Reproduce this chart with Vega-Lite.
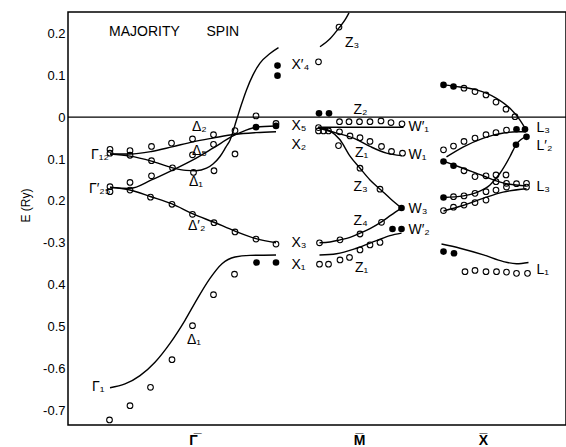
{
  "$schema": "https://vega.github.io/schema/vega-lite/v6.json",
  "width": 498,
  "height": 413,
  "autosize": "none",
  "padding": {"left": 68, "top": 12, "right": 0, "bottom": 22},
  "config": {
    "view": {"stroke": "black", "strokeWidth": 1.5},
    "font": "Liberation Sans"
  },
  "datasets": {
    "curves": [
      {"c": "zero", "k": 0.2, "E": 0}, {"c": "zero", "k": 99.8, "E": 0},
      {"c": "G1", "k": 8.6, "E": -0.646}, {"c": "G1", "k": 11.6, "E": -0.637}, {"c": "G1", "k": 14.6, "E": -0.617}, {"c": "G1", "k": 17.6, "E": -0.585}, {"c": "G1", "k": 20.6, "E": -0.54}, {"c": "G1", "k": 23.6, "E": -0.485}, {"c": "G1", "k": 26.0, "E": -0.435}, {"c": "G1", "k": 28.6, "E": -0.385}, {"c": "G1", "k": 31.0, "E": -0.35}, {"c": "G1", "k": 33.6, "E": -0.334}, {"c": "G1", "k": 36.6, "E": -0.33}, {"c": "G1", "k": 41.8, "E": -0.329},
      {"c": "D2p", "k": 8.6, "E": -0.167}, {"c": "D2p", "k": 12.6, "E": -0.174}, {"c": "D2p", "k": 16.8, "E": -0.19}, {"c": "D2p", "k": 21.0, "E": -0.207}, {"c": "D2p", "k": 25.2, "E": -0.231}, {"c": "D2p", "k": 29.4, "E": -0.251}, {"c": "D2p", "k": 33.6, "E": -0.272}, {"c": "D2p", "k": 37.8, "E": -0.29}, {"c": "D2p", "k": 41.8, "E": -0.3},
      {"c": "D5", "k": 8.6, "E": -0.168}, {"c": "D5", "k": 12.6, "E": -0.17}, {"c": "D5", "k": 16.9, "E": -0.15}, {"c": "D5", "k": 21.2, "E": -0.126}, {"c": "D5", "k": 25.2, "E": -0.102}, {"c": "D5", "k": 29.2, "E": -0.074}, {"c": "D5", "k": 33.2, "E": -0.045}, {"c": "D5", "k": 35.6, "E": -0.032}, {"c": "D5", "k": 37.8, "E": -0.024}, {"c": "D5", "k": 41.8, "E": -0.021},
      {"c": "D2", "k": 8.6, "E": -0.088}, {"c": "D2", "k": 12.6, "E": -0.088}, {"c": "D2", "k": 16.9, "E": -0.082}, {"c": "D2", "k": 21.0, "E": -0.071}, {"c": "D2", "k": 25.2, "E": -0.059}, {"c": "D2", "k": 29.2, "E": -0.05}, {"c": "D2", "k": 33.6, "E": -0.041}, {"c": "D2", "k": 37.8, "E": -0.037}, {"c": "D2", "k": 41.8, "E": -0.035},
      {"c": "D1", "k": 8.6, "E": -0.088}, {"c": "D1", "k": 12.6, "E": -0.093}, {"c": "D1", "k": 16.9, "E": -0.105}, {"c": "D1", "k": 21.1, "E": -0.121}, {"c": "D1", "k": 23.8, "E": -0.127}, {"c": "D1", "k": 25.8, "E": -0.128}, {"c": "D1", "k": 27.9, "E": -0.122}, {"c": "D1", "k": 29.2, "E": -0.112}, {"c": "D1", "k": 30.6, "E": -0.094}, {"c": "D1", "k": 31.8, "E": -0.071}, {"c": "D1", "k": 32.6, "E": -0.055}, {"c": "D1", "k": 33.9, "E": -0.007}, {"c": "D1", "k": 34.8, "E": 0.027}, {"c": "D1", "k": 35.9, "E": 0.065}, {"c": "D1", "k": 37.2, "E": 0.101}, {"c": "D1", "k": 38.6, "E": 0.129}, {"c": "D1", "k": 40.6, "E": 0.152}, {"c": "D1", "k": 42.3, "E": 0.166},
      {"c": "Z3top", "k": 50.6, "E": 0.168}, {"c": "Z3top", "k": 52.6, "E": 0.187}, {"c": "Z3top", "k": 54.4, "E": 0.213}, {"c": "Z3top", "k": 55.6, "E": 0.232}, {"c": "Z3top", "k": 56.4, "E": 0.249},
      {"c": "W1p", "k": 50.3, "E": -0.024}, {"c": "W1p", "k": 67.3, "E": -0.024},
      {"c": "W1", "k": 50.2, "E": -0.026}, {"c": "W1", "k": 53.9, "E": -0.038}, {"c": "W1", "k": 57.3, "E": -0.05}, {"c": "W1", "k": 60.6, "E": -0.07}, {"c": "W1", "k": 63.9, "E": -0.086}, {"c": "W1", "k": 66.9, "E": -0.092},
      {"c": "Z3", "k": 50.2, "E": -0.024}, {"c": "Z3", "k": 52.6, "E": -0.033}, {"c": "Z3", "k": 54.6, "E": -0.054}, {"c": "Z3", "k": 56.6, "E": -0.093}, {"c": "Z3", "k": 58.6, "E": -0.122}, {"c": "Z3", "k": 60.6, "E": -0.15}, {"c": "Z3", "k": 62.8, "E": -0.174}, {"c": "Z3", "k": 64.8, "E": -0.196}, {"c": "Z3", "k": 66.9, "E": -0.217},
      {"c": "Z4", "k": 50.5, "E": -0.3}, {"c": "Z4", "k": 52.6, "E": -0.298}, {"c": "Z4", "k": 54.6, "E": -0.293}, {"c": "Z4", "k": 56.6, "E": -0.287}, {"c": "Z4", "k": 58.6, "E": -0.277}, {"c": "Z4", "k": 60.6, "E": -0.266}, {"c": "Z4", "k": 62.9, "E": -0.25}, {"c": "Z4", "k": 64.8, "E": -0.234}, {"c": "Z4", "k": 66.9, "E": -0.217},
      {"c": "Z1L", "k": 50.5, "E": -0.329}, {"c": "Z1L", "k": 53.9, "E": -0.326}, {"c": "Z1L", "k": 57.9, "E": -0.313}, {"c": "Z1L", "k": 61.9, "E": -0.295}, {"c": "Z1L", "k": 64.6, "E": -0.283}, {"c": "Z1L", "k": 66.9, "E": -0.277},
      {"c": "Ltop", "k": 75.3, "E": 0.077}, {"c": "Ltop", "k": 78.6, "E": 0.072}, {"c": "Ltop", "k": 81.9, "E": 0.065}, {"c": "Ltop", "k": 85.9, "E": 0.045}, {"c": "Ltop", "k": 88.6, "E": 0.021}, {"c": "Ltop", "k": 90.6, "E": -0.007}, {"c": "Ltop", "k": 91.8, "E": -0.03},
      {"c": "LW1p", "k": 75.9, "E": -0.095}, {"c": "LW1p", "k": 79.3, "E": -0.071}, {"c": "LW1p", "k": 83.3, "E": -0.05}, {"c": "LW1p", "k": 87.3, "E": -0.038}, {"c": "LW1p", "k": 89.9, "E": -0.035}, {"c": "LW1p", "k": 91.8, "E": -0.035},
      {"c": "LW1", "k": 75.3, "E": -0.105}, {"c": "LW1", "k": 79.2, "E": -0.122}, {"c": "LW1", "k": 83.2, "E": -0.14}, {"c": "LW1", "k": 87.2, "E": -0.157}, {"c": "LW1", "k": 91.8, "E": -0.164},
      {"c": "LA", "k": 75.3, "E": -0.192}, {"c": "LA", "k": 79.3, "E": -0.188}, {"c": "LA", "k": 81.9, "E": -0.18}, {"c": "LA", "k": 84.6, "E": -0.162}, {"c": "LA", "k": 86.6, "E": -0.134}, {"c": "LA", "k": 88.6, "E": -0.094}, {"c": "LA", "k": 89.8, "E": -0.066}, {"c": "LA", "k": 91.9, "E": -0.046},
      {"c": "LB", "k": 75.3, "E": -0.224}, {"c": "LB", "k": 79.2, "E": -0.211}, {"c": "LB", "k": 83.2, "E": -0.194}, {"c": "LB", "k": 87.2, "E": -0.179}, {"c": "LB", "k": 91.9, "E": -0.171},
      {"c": "L1", "k": 74.9, "E": -0.303}, {"c": "L1", "k": 78.6, "E": -0.313}, {"c": "L1", "k": 83.3, "E": -0.329}, {"c": "L1", "k": 87.3, "E": -0.345}, {"c": "L1", "k": 89.9, "E": -0.35}, {"c": "L1", "k": 92.3, "E": -0.347}
    ],
    "open": [
      {"k": 8.6, "E": -0.077}, {"k": 8.6, "E": -0.086}, {"k": 12.6, "E": -0.08}, {"k": 12.6, "E": -0.091}, {"k": 16.9, "E": -0.07}, {"k": 16.9, "E": -0.104}, {"k": 20.9, "E": -0.062}, {"k": 21.1, "E": -0.121}, {"k": 25.1, "E": -0.052}, {"k": 25.1, "E": -0.09}, {"k": 25.3, "E": -0.132}, {"k": 29.3, "E": -0.042}, {"k": 29.3, "E": -0.065}, {"k": 29.4, "E": -0.128}, {"k": 33.6, "E": -0.032}, {"k": 33.6, "E": -0.088}, {"k": 37.8, "E": 0.003}, {"k": 41.8, "E": -0.015},
      {"k": 8.6, "E": -0.166}, {"k": 8.6, "E": -0.178}, {"k": 12.6, "E": -0.156}, {"k": 12.6, "E": -0.174}, {"k": 16.9, "E": -0.14}, {"k": 16.7, "E": -0.191}, {"k": 21.0, "E": -0.208}, {"k": 25.1, "E": -0.232}, {"k": 29.4, "E": -0.252}, {"k": 33.6, "E": -0.274}, {"k": 37.8, "E": -0.291}, {"k": 41.8, "E": -0.303},
      {"k": 8.5, "E": -0.723}, {"k": 12.6, "E": -0.689}, {"k": 16.7, "E": -0.645}, {"k": 21.0, "E": -0.579}, {"k": 25.1, "E": -0.498}, {"k": 29.3, "E": -0.424}, {"k": 33.5, "E": -0.375},
      {"k": 50.3, "E": 0.132}, {"k": 54.4, "E": 0.215}, {"k": 50.3, "E": -0.025}, {"k": 50.3, "E": -0.033}, {"k": 51.3, "E": -0.033}, {"k": 52.3, "E": -0.033},
      {"k": 54.5, "E": -0.011}, {"k": 56.4, "E": -0.011}, {"k": 58.5, "E": -0.011}, {"k": 60.6, "E": -0.011}, {"k": 62.8, "E": -0.009}, {"k": 64.8, "E": -0.013}, {"k": 67.0, "E": -0.016},
      {"k": 54.5, "E": -0.035}, {"k": 56.6, "E": -0.045}, {"k": 58.6, "E": -0.049}, {"k": 60.6, "E": -0.058}, {"k": 62.9, "E": -0.07}, {"k": 64.9, "E": -0.082}, {"k": 67.1, "E": -0.086},
      {"k": 54.3, "E": -0.068}, {"k": 58.6, "E": -0.122}, {"k": 62.6, "E": -0.172},
      {"k": 50.5, "E": -0.3}, {"k": 54.6, "E": -0.293}, {"k": 58.6, "E": -0.279}, {"k": 62.9, "E": -0.251},
      {"k": 50.5, "E": -0.351}, {"k": 52.3, "E": -0.351}, {"k": 54.6, "E": -0.341}, {"k": 56.5, "E": -0.335}, {"k": 58.6, "E": -0.317}, {"k": 60.6, "E": -0.305}, {"k": 62.6, "E": -0.299},
      {"k": 79.4, "E": 0.069}, {"k": 81.6, "E": 0.061}, {"k": 83.8, "E": 0.053}, {"k": 85.8, "E": 0.036}, {"k": 87.8, "E": 0.019}, {"k": 89.6, "E": 0.001},
      {"k": 75.3, "E": -0.078}, {"k": 77.3, "E": -0.069}, {"k": 79.4, "E": -0.058}, {"k": 81.6, "E": -0.05}, {"k": 83.8, "E": -0.042}, {"k": 85.8, "E": -0.037}, {"k": 87.9, "E": -0.031},
      {"k": 79.4, "E": -0.128}, {"k": 81.6, "E": -0.142}, {"k": 83.8, "E": -0.14}, {"k": 85.8, "E": -0.138}, {"k": 87.8, "E": -0.138}, {"k": 85.8, "E": -0.154}, {"k": 87.9, "E": -0.158}, {"k": 89.9, "E": -0.159}, {"k": 91.9, "E": -0.158}, {"k": 87.9, "E": -0.167}, {"k": 91.9, "E": -0.167},
      {"k": 77.3, "E": -0.19}, {"k": 79.4, "E": -0.188}, {"k": 81.6, "E": -0.182}, {"k": 83.8, "E": -0.178}, {"k": 85.8, "E": -0.174},
      {"k": 75.3, "E": -0.223}, {"k": 77.3, "E": -0.215}, {"k": 79.4, "E": -0.21}, {"k": 81.6, "E": -0.204}, {"k": 83.8, "E": -0.198},
      {"k": 79.6, "E": -0.369}, {"k": 81.6, "E": -0.366}, {"k": 83.8, "E": -0.369}, {"k": 85.9, "E": -0.369}, {"k": 87.9, "E": -0.37}, {"k": 89.9, "E": -0.373}, {"k": 92.1, "E": -0.373}
    ],
    "filled": [
      {"k": 37.8, "E": -0.024}, {"k": 41.8, "E": -0.021}, {"k": 42.1, "E": 0.123}, {"k": 42.1, "E": 0.099}, {"k": 37.9, "E": -0.347}, {"k": 41.8, "E": -0.347},
      {"k": 50.4, "E": 0.009}, {"k": 52.4, "E": 0.009}, {"k": 66.9, "E": -0.217}, {"k": 65.1, "E": -0.267}, {"k": 66.9, "E": -0.267},
      {"k": 75.3, "E": 0.077}, {"k": 77.3, "E": 0.073}, {"k": 91.6, "E": -0.029}, {"k": 89.9, "E": -0.029}, {"k": 91.9, "E": -0.047}, {"k": 89.8, "E": -0.066}, {"k": 75.3, "E": -0.106}, {"k": 77.3, "E": -0.116}, {"k": 75.3, "E": -0.192}, {"k": 75.3, "E": -0.321}, {"k": 77.4, "E": -0.325}
    ],
    "labels": [
      {"t": "MAJORITY", "k": 8.4, "E": 0.203}, {"t": "SPIN", "k": 27.9, "E": 0.203},
      {"t": "Γ₁₂", "k": 4.8, "E": -0.09}, {"t": "Γ′₂₅", "k": 4.4, "E": -0.172}, {"t": "Γ₁", "k": 5.0, "E": -0.644},
      {"t": "Δ₂", "k": 25.0, "E": -0.023}, {"t": "Δ₅", "k": 25.0, "E": -0.082}, {"t": "Δ₁", "k": 24.4, "E": -0.155}, {"t": "Δ′₂", "k": 24.2, "E": -0.261}, {"t": "Δ₁", "k": 24.0, "E": -0.532},
      {"t": "X′₄", "k": 44.9, "E": 0.125}, {"t": "X₅", "k": 44.9, "E": -0.021}, {"t": "X₂", "k": 44.9, "E": -0.066}, {"t": "X₃", "k": 44.9, "E": -0.3}, {"t": "X₁", "k": 44.9, "E": -0.353},
      {"t": "Z₃", "k": 55.6, "E": 0.176}, {"t": "Z₂", "k": 57.3, "E": 0.017}, {"t": "Z₁", "k": 57.6, "E": -0.086}, {"t": "Z₃", "k": 57.3, "E": -0.166}, {"t": "Z₄", "k": 57.3, "E": -0.247}, {"t": "Z₁", "k": 57.6, "E": -0.361},
      {"t": "W′₁", "k": 68.3, "E": -0.023}, {"t": "W₁", "k": 68.3, "E": -0.09}, {"t": "W₃", "k": 68.3, "E": -0.22}, {"t": "W′₂", "k": 68.3, "E": -0.269},
      {"t": "L₃", "k": 93.9, "E": -0.026}, {"t": "L′₂", "k": 93.9, "E": -0.07}, {"t": "L₃", "k": 93.9, "E": -0.166}, {"t": "L₁", "k": 93.9, "E": -0.365}
    ],
    "ticks": [
      {"E": 0.2}, {"E": 0.1}, {"E": 0}, {"E": -0.1}, {"E": -0.2}, {"E": -0.3}, {"E": -0.4}, {"E": -0.5}, {"E": -0.6}, {"E": -0.7}
    ]
  },
  "encoding": {
    "x": {
      "field": "k", "type": "quantitative",
      "scale": {"domain": [0.2, 99.8], "nice": false, "zero": false},
      "axis": {
        "title": null, "grid": false, "domain": false, "ticks": false,
        "values": [25.2, 58.4, 83.2],
        "labelExpr": "datum.value < 40 ? 'Γ̅' : (datum.value < 70 ? 'M̅' : 'X̅')",
        "labelFont": "Liberation Sans", "labelFontSize": 14, "labelFontWeight": "bold",
        "labelColor": "black", "labelPadding": 8, "labelBaseline": "top"
      }
    },
    "y": {
      "field": "E", "type": "quantitative",
      "scale": {"domain": [-0.735, 0.251], "nice": false, "zero": false},
      "axis": {
        "title": "E (Ry)", "grid": false, "domain": false, "ticks": false, "tickSize": 0,
        "values": [0.2, 0.1, 0, -0.1, -0.2, -0.3, -0.4, -0.5, -0.6, -0.7],
        "labelExpr": "datum.value == 0 ? '0' : ((abs(datum.value + 0.3) < 0.01 || datum.value < -0.55) ? '-' + format(abs(datum.value), '.1f') : format(abs(datum.value), '.1f'))",
        "labelFont": "Liberation Sans", "labelFontSize": 13, "labelColor": "black", "labelPadding": 3,
        "titleFont": "Liberation Sans", "titleFontSize": 12, "titleFontWeight": "normal", "titleColor": "black",
        "titleX": -43, "titleY": 193, "titleAngle": 270, "titleAlign": "center", "titleBaseline": "middle"
      }
    }
  },
  "layer": [
    {
      "data": {"name": "ticks"},
      "mark": {"type": "rule", "color": "black", "strokeWidth": 1.3},
      "encoding": {"x": {"datum": 0.2}, "x2": {"datum": 2.2}}
    },
    {
      "data": {"name": "ticks"},
      "mark": {"type": "rule", "color": "black", "strokeWidth": 1.3},
      "encoding": {"x": {"datum": 97.8}, "x2": {"datum": 99.8}}
    },
    {
      "data": {"name": "curves"},
      "mark": {"type": "line", "color": "black", "strokeWidth": 1.4, "interpolate": "monotone", "clip": true},
      "encoding": {"detail": {"field": "c"}}
    },
    {
      "data": {"name": "open"},
      "mark": {"type": "point", "shape": "circle", "filled": false, "color": "black", "size": 32, "strokeWidth": 1.1, "opacity": 1}
    },
    {
      "data": {"name": "filled"},
      "mark": {"type": "point", "shape": "circle", "filled": true, "color": "black", "size": 44, "opacity": 1}
    },
    {
      "data": {"name": "labels"},
      "mark": {"type": "text", "align": "left", "baseline": "middle", "font": "Liberation Sans", "fontSize": 14, "color": "black"},
      "encoding": {"text": {"field": "t"}}
    }
  ]
}
